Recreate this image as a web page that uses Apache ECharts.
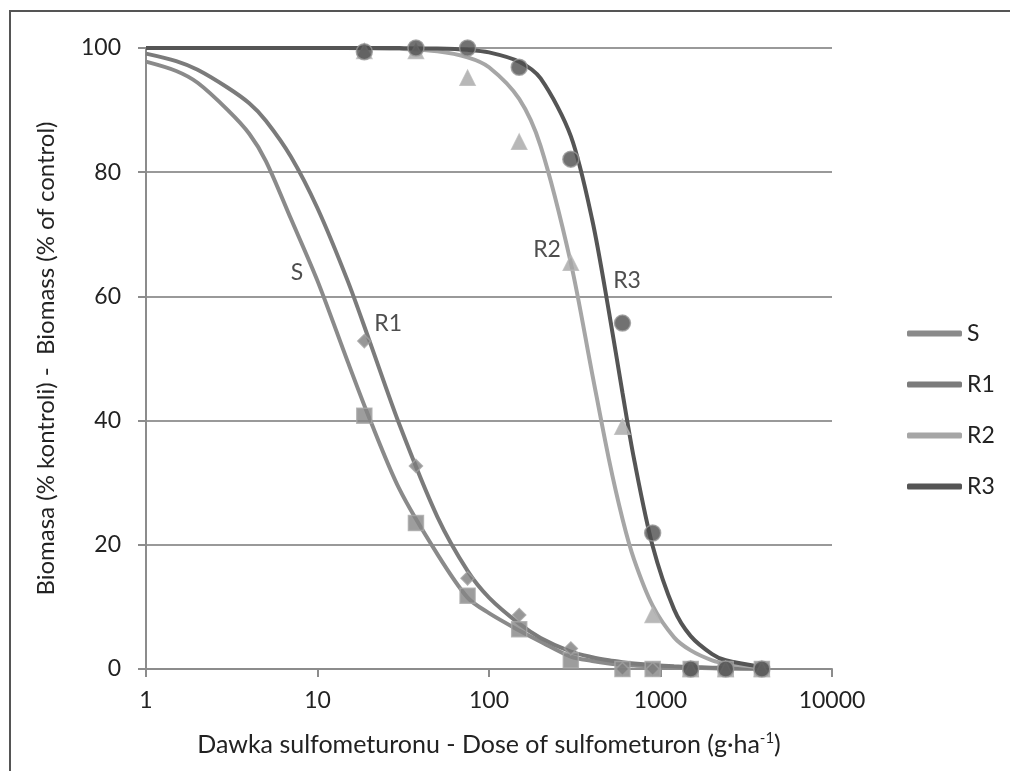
<!DOCTYPE html>
<html>
<head>
<meta charset="utf-8">
<script src="https://cdn.jsdelivr.net/npm/echarts@6/dist/echarts.min.js"></script>
<style>
	html,body{margin:0;padding:0;background:#fff;}
	#chart{width:1010px;height:771px;}
</style>
</head>
<body>
<div id="chart"></div>
<script>
	// 测量点 - doses of the pot test
	var doses = [18.75, 37.5, 75, 150, 300, 600, 900, 1500, 2400, 3900];
	var sPts  = [40.8, 23.5, 11.8, 6.4, 1.4, 0, 0, 0, 0, 0];
	var r1Pts = [52.8, 32.7, 14.6, 8.7, 3.3, 0, 0];
	var r2Pts = [99.5, 99.5, 95.2, 84.9, 65.4, 39.0, 8.7, 0, 0, 0];
	var r3Pts = [99.4, 100, 100, 96.9, 82.1, 55.7, 21.9, 0, 0, 0];

	// 拟合曲线 - fitted curves
	var curveDoses = [1, 1.5, 2, 3, 4, 5, 7, 10, 15, 20, 30, 50, 75, 100, 150, 200, 300, 400, 500, 600, 700, 900, 1200, 1500, 2000, 2400, 3900];
	var sCurve  = [97.8, 96.3, 94.4, 90, 86.2, 81.8, 72.5, 62.5, 49.5, 40.5, 29, 18.5, 11.5, 9, 6.2, 4.4, 2, 1.3, 0.9, 0.7, 0.55, 0.4, 0.25, 0.18, 0.12, 0.08, 0.03];
	var r1Curve = [99.1, 97.9, 96.5, 93.6, 91.1, 88.3, 82.5, 74.2, 62.5, 53, 39.4, 24.5, 15.8, 11.5, 7.3, 5, 2.8, 1.9, 1.4, 1.1, 0.9, 0.65, 0.44, 0.32, 0.22, 0.17, 0.09];
	var r2Curve = [100, 100, 100, 100, 100, 100, 100, 100, 99.98, 99.95, 99.86, 99.47, 98.5, 96.9, 91.8, 84.2, 65.4, 47.5, 33.8, 24.2, 17.7, 10.2, 5.1, 3, 1.4, 0.9, 0.26];
	var r3Curve = [100, 100, 100, 100, 100, 100, 100, 100, 100, 100, 99.98, 99.9, 99.7, 99.3, 97.8, 95.1, 85.8, 72.3, 57.6, 44.5, 33.9, 19.8, 9.6, 5.3, 2.4, 1.4, 0.34];

	// 曲线标注
	var tagNames = ['S', 'R1', 'R2', 'R3'];
	var tagPos = [[7.6, 63.9], [25.8, 55.7], [218, 67.5], [638, 62.6]];

	var seriesNames = ['S', 'R1', 'R2', 'R3'];
	var lineColors = ['#8a8a8a', '#7b7b7b', '#a6a6a6', '#555555'];
	var font = 'Lato, "Open Sans", sans-serif';

	function zip(xs, ys){
		var out = [];
		for (var i = 0; i < ys.length; i++) {
			out.push([xs[i], ys[i]]);
		};
		return out;
	}

	var curves = [sCurve, r1Curve, r2Curve, r3Curve];
	var points = [sPts, r1Pts, r2Pts, r3Pts];
	var symbols = ['rect', 'diamond', 'triangle', 'circle'];
	var symbolSizes = [15, 13, 15, 16];
	var markerFill = ['#858585', '#7d7d7d', '#a6a6a6', '#4d4d4d'];
	var markerBorder = ['#a8a8a8', '#a0a0a0', '#b8b8b8', '#9a9a9a'];

	var series = [];
	// 曲线
	for (var i = 0; i < 4; i++) {
		series.push({
			name: seriesNames[i],
			type: 'line',
			data: zip(curveDoses, curves[i]),
			smooth: 0.3,
			showSymbol: false,
			symbol: 'none',
			z: 2 + i,
			lineStyle: {color: lineColors[i], width: 4},
			itemStyle: {color: lineColors[i]}
		});
	};
	// 测量点
	for (var j = 0; j < 4; j++) {
		series.push({
			name: seriesNames[j] + ' pts',
			type: 'scatter',
			data: zip(doses, points[j]),
			symbol: symbols[j],
			symbolSize: symbolSizes[j],
			z: 10 + j,
			itemStyle: {color: markerFill[j], borderColor: markerBorder[j], borderWidth: 1.5}
		});
	};
	// 标注文字
	series.push({
		name: 'tags',
		type: 'scatter',
		symbolSize: 0,
		z: 20,
		data: tagPos.map(function(p, k){ return {value: p, name: tagNames[k]}; }),
		label: {
			show: true,
			position: 'inside',
			formatter: '{b}',
			color: '#222',
			fontSize: 23,
			fontFamily: font
		}
	});

	var myChart = echarts.init(document.getElementById('chart'));
	myChart.setOption({
		animation: false,
		backgroundColor: '#fff',
		textStyle: {fontFamily: font},
		grid: {left: 146, right: 178, top: 48, bottom: 102, containLabel: false},
		legend: {
			data: seriesNames,
			orient: 'vertical',
			left: 907,
			top: 322,
			padding: 0,
			itemWidth: 55,
			itemHeight: 6,
			itemGap: 28,
			icon: 'roundRect',
			textStyle: {color: '#222', fontSize: 23, lineHeight: 20, fontFamily: font}
		},
		xAxis: {
			type: 'log',
			logBase: 10,
			min: 1,
			max: 10000,
			name: 'Dawka sulfometuronu - Dose of sulfometuron (g·ha{sup|-1})',
			nameLocation: 'middle',
			nameGap: 62,
			nameTextStyle: {
				color: '#222', fontSize: 25, fontFamily: font,
				rich: {sup: {fontSize: 15, verticalAlign: 'top', padding: [0, 0, 12, 0], color: '#222', fontFamily: font}}
			},
			axisLine: {lineStyle: {color: '#8c8c8c', width: 2}},
			axisTick: {show: true, inside: false, length: 8, lineStyle: {color: '#8c8c8c', width: 2}},
			axisLabel: {
				color: '#222', fontSize: 23, fontFamily: font, margin: 20,
				formatter: function(v){ return String(Math.round(v)); }
			},
			splitLine: {show: false},
			minorTick: {show: false}
		},
		yAxis: {
			type: 'value',
			min: 0,
			max: 100,
			interval: 20,
			name: 'Biomasa (% kontroli) -  Biomass (% of control)',
			nameLocation: 'middle',
			nameGap: 88,
			nameTextStyle: {color: '#222', fontSize: 24, fontFamily: font},
			axisLine: {show: true, lineStyle: {color: '#8c8c8c', width: 2}},
			axisTick: {show: true, length: 8, lineStyle: {color: '#8c8c8c', width: 2}},
			axisLabel: {color: '#222', fontSize: 23, fontFamily: font, margin: 25},
			splitLine: {show: true, lineStyle: {color: '#999', width: 2}}
		},
		graphic: [{
			// 外框
			type: 'rect',
			silent: true,
			shape: {x: 10, y: 11, width: 1200, height: 1000},
			style: {fill: null, stroke: '#555', lineWidth: 2}
		}],
		series: series
	});
</script>
</body>
</html>
